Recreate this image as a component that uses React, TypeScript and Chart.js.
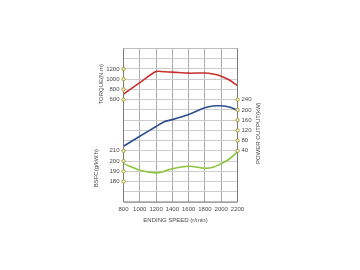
import React, { useEffect, useRef } from "react";
import { Chart, registerables } from "chart.js";

Chart.register(...registerables);

const speeds = [800, 1000, 1200, 1300, 1400, 1600, 1800, 1900, 2000, 2100, 2200];
const torqueValues = [710, 932, 1150, 1145, 1138, 1118, 1122, 1100, 1060, 985, 875];
const powerValues = [58, 97, 135, 154, 162, 182, 208, 215, 216, 211, 198];
const bsfcValues = [197.5, 191, 188.5, 190, 192.5, 195, 193, 194, 197.5, 202, 209];

const speedTicks = [800, 1000, 1200, 1400, 1600, 1800, 2000, 2200];
const torqueTicks = [600, 800, 1000, 1200];
const bsfcTicks = [180, 190, 200, 210];
const powerTicks = [40, 80, 120, 160, 200, 240];

const xTitle = "ENDING SPEED (r/min)";
const torqueTitle = "TORQUE(N.m)";
const bsfcTitle = "BSFC(g/kW.h)";
const powerTitle = "POWER OUTPUT(kW)";

const FONT = "6px 'Liberation Sans', Arial, sans-serif";
const TEXT = "#4a4a4a";
const MARK = "#a39a3a";

const overlay = {
  id: "overlay",
  afterDatasetsDraw(chart: any) {
    const ctx = chart.ctx as CanvasRenderingContext2D;
    const a = chart.chartArea;
    const sx = chart.scales.x;
    const sT = chart.scales.yT;
    const sB = chart.scales.yB;
    const sP = chart.scales.yP;
    ctx.save();
    // frame
    ctx.strokeStyle = "#bdbdbd";
    ctx.lineWidth = 1;
    ctx.beginPath();
    ctx.moveTo(a.left, a.top);
    ctx.lineTo(a.right, a.top);
    ctx.stroke();
    ctx.strokeStyle = "#7a7a7a";
    ctx.beginPath();
    ctx.moveTo(a.left, a.top);
    ctx.lineTo(a.left, a.bottom);
    ctx.lineTo(a.right, a.bottom);
    ctx.lineTo(a.right, a.top);
    ctx.stroke();
    ctx.font = FONT;
    ctx.fillStyle = TEXT;
    // x labels
    ctx.textAlign = "center";
    ctx.textBaseline = "middle";
    speedTicks.forEach((v) => {
      ctx.fillText(String(v), sx.getPixelForValue(v), a.bottom + 7);
    });
    ctx.fillText(xTitle, (a.left + a.right) / 2 - 5, a.bottom + 18);
    const circle = (x: number, y: number) => {
      ctx.beginPath();
      ctx.arc(x, y, 1.7, 0, Math.PI * 2);
      ctx.fillStyle = "#f4f0c8";
      ctx.fill();
      ctx.strokeStyle = MARK;
      ctx.lineWidth = 1;
      ctx.stroke();
    };
    // left labels
    const leftLab = (v: number, y: number) => {
      circle(a.left, y);
      ctx.fillStyle = TEXT;
      ctx.textAlign = "right";
      ctx.fillText(String(v), a.left - 4, y);
    };
    torqueTicks.forEach((v) => leftLab(v, sT.getPixelForValue(v)));
    bsfcTicks.forEach((v) => leftLab(v, sB.getPixelForValue(v)));
    powerTicks.forEach((v) => {
      const y = sP.getPixelForValue(v);
      circle(a.right, y);
      ctx.fillStyle = TEXT;
      ctx.textAlign = "left";
      ctx.fillText(String(v), a.right + 4, y);
    });
    // rotated titles
    const vtext = (t: string, x: number, y: number) => {
      ctx.save();
      ctx.translate(x, y);
      ctx.rotate(-Math.PI / 2);
      ctx.textAlign = "center";
      ctx.textBaseline = "middle";
      ctx.fillStyle = TEXT;
      ctx.fillText(t, 0, 0);
      ctx.restore();
    };
    const tMid = (sT.getPixelForValue(600) + sT.getPixelForValue(1200)) / 2;
    const bMid = (sB.getPixelForValue(180) + sB.getPixelForValue(210)) / 2;
    const pMid = (sP.getPixelForValue(40) + sP.getPixelForValue(240)) / 2;
    vtext(torqueTitle, a.left - 22, tMid);
    vtext(bsfcTitle, a.left - 27, bMid + 2);
    vtext(powerTitle, a.right + 21, pMid + 8);
    ctx.restore();
  },
};

export default function App() {
  const ref = useRef<HTMLCanvasElement | null>(null);
  useEffect(() => {
    document.body.style.margin = "0";
    const pts = (vals: number[]) => speeds.map((s, i) => ({ x: s, y: vals[i] }));
    const chart = new Chart(ref.current!, {
      type: "line",
      data: {
        datasets: [
          { data: pts(torqueValues), yAxisID: "yT", borderColor: "#c8302b", borderWidth: 1.6, pointRadius: 0, tension: 0.3 },
          { data: pts(powerValues), yAxisID: "yP", borderColor: "#2c4e8e", borderWidth: 1.6, pointRadius: 0, tension: 0.3 },
          { data: pts(bsfcValues), yAxisID: "yB", borderColor: "#8cc43c", borderWidth: 1.6, pointRadius: 0, tension: 0.3 },
        ],
      },
      options: {
        animation: false,
        responsive: false,
        maintainAspectRatio: false,
        layout: { padding: { left: 123.5, right: 122.5, top: 48.5, bottom: 68 } },
        plugins: { legend: { display: false }, tooltip: { enabled: false } },
        scales: {
          x: {
            type: "linear",
            min: 800,
            max: 2200,
            ticks: { stepSize: 200, display: false },
            grid: { color: "#aaaaaa", drawTicks: false },
            border: { display: false },
            afterFit: (s: any) => { s.height = 0; },
          },
          yT: {
            type: "linear",
            position: "left",
            min: -1400,
            max: 1600,
            ticks: { stepSize: 200, display: false },
            grid: { color: "#cdcdcd", drawTicks: false },
            border: { display: false },
            afterFit: (s: any) => { s.width = 0; },
          },
          yB: { type: "linear", display: false, min: 160, max: 310 },
          yP: { type: "linear", display: false, min: -160, max: 440 },
        },
      },
      plugins: [overlay],
    });
    return () => chart.destroy();
  }, []);
  return (
    <div style={{ width: 360, height: 270, background: "#fff" }}>
      <canvas ref={ref} width={360} height={270} style={{ display: "block" }} />
    </div>
  );
}
